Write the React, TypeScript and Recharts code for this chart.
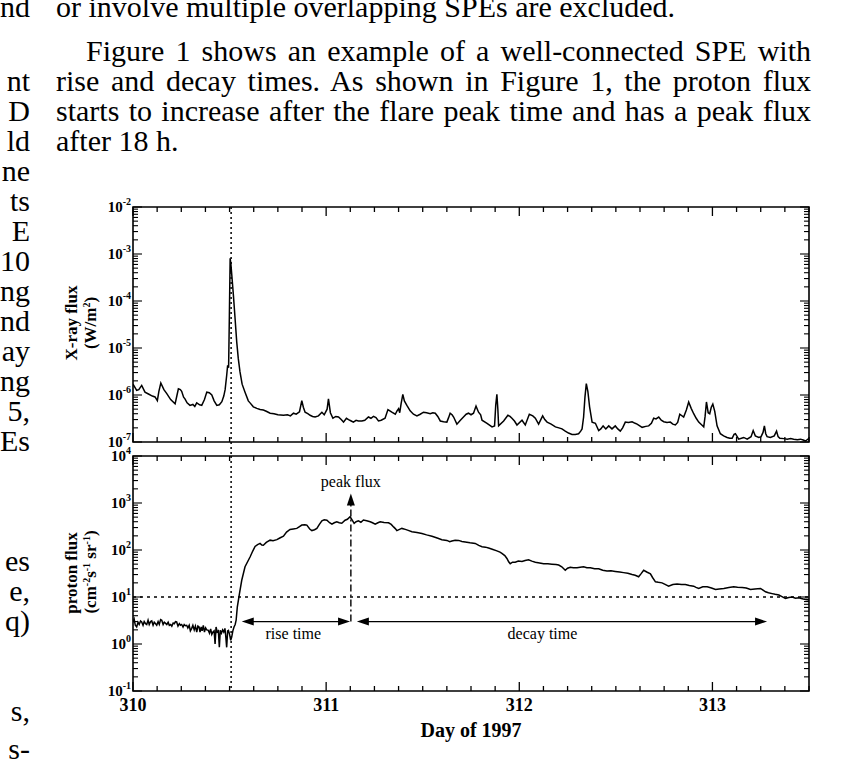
import React from "react";
import {
  LineChart,
  Line,
  XAxis,
  YAxis,
  ReferenceLine,
  ReferenceArea,
  ReferenceDot,
} from "recharts";

// GOES X-ray flux (W/m^2), [day of 1997, flux]
const xrayPoints: [number, number][] = [
  [310.0, 1.7e-6], [310.01, 1.45e-6], [310.019, 1.26e-6], [310.03, 1.3e-6], [310.045, 1.6e-6],
  [310.062, 1.15e-6], [310.08, 1.05e-6], [310.1, 9.5e-7], [310.114, 9.1e-7], [310.126, 7.6e-7],
  [310.134, 1.2e-6], [310.144, 1.8e-6], [310.16, 1.3e-6], [310.175, 1.07e-6], [310.195, 8e-7],
  [310.218, 6.5e-7], [310.228, 1.0e-6], [310.235, 1.35e-6], [310.245, 1.3e-6], [310.252, 1.2e-6],
  [310.262, 9e-7], [310.269, 8.3e-7], [310.28, 6.8e-7], [310.295, 6e-7], [310.31, 6.3e-7],
  [310.32, 5.7e-7], [310.33, 6.8e-7], [310.345, 6.2e-7], [310.356, 6e-7], [310.37, 8e-7],
  [310.382, 1.15e-6], [310.395, 1.12e-6], [310.408, 1e-6], [310.42, 7.5e-7], [310.434, 6e-7],
  [310.447, 6.2e-7], [310.46, 7.2e-7], [310.47, 9.5e-7], [310.477, 1.3e-6], [310.485, 2.6e-6],
  [310.49, 4.3e-6], [310.495, 3.8e-6], [310.499, 5e-5], [310.503, 8.1e-4], [310.507, 6e-4],
  [310.513, 3e-4], [310.52, 1.3e-4], [310.528, 4.5e-5], [310.537, 1.35e-5], [310.545, 6e-6],
  [310.554, 3.1e-6], [310.565, 1.7e-6], [310.58, 1.15e-6], [310.597, 7.5e-7], [310.606, 6.8e-7],
  [310.623, 5.6e-7], [310.641, 5.2e-7], [310.658, 4.9e-7], [310.675, 4.8e-7], [310.69, 4.5e-7],
  [310.71, 4.1e-7], [310.73, 4.0e-7], [310.75, 3.8e-7], [310.779, 3.7e-7], [310.8, 3.8e-7],
  [310.815, 3.6e-7], [310.831, 4.1e-7], [310.845, 3.9e-7], [310.862, 4.4e-7], [310.874, 7.6e-7],
  [310.882, 5.5e-7], [310.891, 4.3e-7], [310.905, 4.0e-7], [310.917, 3.7e-7], [310.93, 3.5e-7],
  [310.943, 3.4e-7], [310.96, 3.6e-7], [310.978, 4.3e-7], [310.99, 3.8e-7], [311.005, 5e-7],
  [311.012, 8.3e-7], [311.022, 4.2e-7], [311.035, 3.2e-7], [311.05, 3.5e-7], [311.064, 3.4e-7],
  [311.078, 3.0e-7], [311.09, 2.65e-7], [311.105, 3.2e-7], [311.116, 3.0e-7], [311.13, 2.8e-7],
  [311.141, 2.65e-7], [311.155, 2.9e-7], [311.167, 2.8e-7], [311.185, 2.8e-7], [311.2, 2.9e-7],
  [311.219, 3.4e-7], [311.232, 3.2e-7], [311.245, 3.5e-7], [311.258, 3.3e-7], [311.271, 2.8e-7],
  [311.285, 2.9e-7], [311.305, 3.2e-7], [311.32, 4.9e-7], [311.33, 4.6e-7], [311.34, 4.3e-7],
  [311.358, 3.9e-7], [311.367, 4.6e-7], [311.375, 5.1e-7], [311.381, 4.2e-7], [311.388, 6.5e-7],
  [311.397, 1.03e-6], [311.405, 7.5e-7], [311.418, 6e-7], [311.435, 4.6e-7], [311.452, 3.9e-7],
  [311.47, 3.6e-7], [311.487, 3.9e-7], [311.504, 4.3e-7], [311.52, 4.2e-7], [311.539, 4.0e-7],
  [311.552, 4.2e-7], [311.565, 4.1e-7], [311.578, 3.5e-7], [311.591, 2.8e-7], [311.608, 2.7e-7],
  [311.625, 2.65e-7], [311.634, 3.3e-7], [311.642, 4.1e-7], [311.652, 3.8e-7], [311.66, 3.4e-7],
  [311.677, 2.4e-7], [311.695, 2.9e-7], [311.711, 3.4e-7], [311.725, 3.9e-7], [311.737, 4.1e-7],
  [311.75, 3.8e-7], [311.763, 4.1e-7], [311.776, 5.8e-7], [311.789, 4.3e-7], [311.8, 3.8e-7],
  [311.807, 2.9e-7], [311.833, 2.5e-7], [311.859, 2.1e-7], [311.872, 2.2e-7], [311.878, 6e-7],
  [311.884, 1.03e-6], [311.889, 5e-7], [311.893, 2.2e-7], [311.919, 2.8e-7], [311.941, 3.7e-7],
  [311.952, 3.5e-7], [311.962, 3.2e-7], [311.975, 2.8e-7], [311.988, 2.3e-7], [312.014, 2.9e-7],
  [312.031, 2.3e-7], [312.052, 3.9e-7], [312.07, 3.6e-7], [312.083, 3.2e-7], [312.1, 2.4e-7],
  [312.121, 3.6e-7], [312.132, 3.0e-7], [312.144, 2.65e-7], [312.165, 2.4e-7], [312.187, 2.1e-7],
  [312.205, 2.0e-7], [312.221, 1.9e-7], [312.238, 1.7e-7], [312.255, 1.55e-7], [312.273, 1.45e-7],
  [312.29, 1.45e-7], [312.307, 1.5e-7], [312.318, 1.7e-7], [312.325, 1.9e-7], [312.333, 3.4e-7],
  [312.34, 9e-7], [312.347, 1.74e-6], [312.355, 1.2e-6], [312.364, 5.6e-7], [312.377, 2.65e-7],
  [312.394, 2.5e-7], [312.411, 1.75e-7], [312.422, 1.9e-7], [312.434, 2.2e-7], [312.448, 1.9e-7],
  [312.463, 2.2e-7], [312.48, 1.9e-7], [312.497, 2.2e-7], [312.51, 1.9e-7], [312.523, 1.7e-7],
  [312.535, 2.0e-7], [312.549, 2.65e-7], [312.565, 2.6e-7], [312.584, 2.7e-7], [312.6, 2.5e-7],
  [312.61, 2.4e-7], [312.636, 2.05e-7], [312.655, 2.15e-7], [312.67, 2.2e-7], [312.684, 2.5e-7],
  [312.696, 3.2e-7], [312.708, 3.1e-7], [312.722, 3.4e-7], [312.735, 2.9e-7], [312.748, 2.7e-7],
  [312.765, 2.6e-7], [312.782, 2.65e-7], [312.795, 2.4e-7], [312.808, 2.3e-7], [312.82, 2.6e-7],
  [312.831, 3.9e-7], [312.851, 3.4e-7], [312.865, 4.8e-7], [312.877, 7.1e-7], [312.89, 5.2e-7],
  [312.903, 4e-7], [312.916, 3.2e-7], [312.929, 2.65e-7], [312.945, 2.3e-7], [312.955, 2.1e-7],
  [312.962, 3.5e-7], [312.969, 7.1e-7], [312.978, 4.2e-7], [312.986, 4e-7], [312.994, 5.5e-7],
  [313.002, 6.4e-7], [313.012, 4.5e-7], [313.024, 2.2e-7], [313.041, 1.5e-7], [313.058, 1.35e-7],
  [313.076, 1.25e-7], [313.09, 1.2e-7], [313.102, 1.2e-7], [313.112, 1.45e-7], [313.119, 1.5e-7],
  [313.136, 1.15e-7], [313.15, 1.2e-7], [313.162, 1.25e-7], [313.18, 1.15e-7], [313.2, 1.3e-7],
  [313.211, 1.75e-7], [313.222, 1.35e-7], [313.24, 1.25e-7], [313.252, 1.3e-7], [313.262, 1.6e-7],
  [313.269, 2.2e-7], [313.276, 1.5e-7], [313.283, 1.3e-7], [313.3, 1.25e-7], [313.32, 1.35e-7],
  [313.332, 1.7e-7], [313.34, 1.3e-7], [313.349, 1.2e-7], [313.37, 1.18e-7], [313.387, 1.15e-7],
  [313.405, 1.18e-7], [313.421, 1.15e-7], [313.44, 1.12e-7], [313.456, 1.15e-7], [313.47, 1.1e-7],
  [313.482, 1.05e-7], [313.5, 1.2e-7],
];

// proton flux (cm^-2 s^-1 sr^-1), [day of 1997, flux]
const protonPoints: [number, number][] = [
  [310.0, 2.9], [310.006, 3.4], [310.012, 2.5], [310.019, 2.3], [310.026, 2.9], [310.032, 2.6],
  [310.039, 3.1], [310.045, 2.95], [310.052, 2.5], [310.058, 3.0], [310.065, 2.7], [310.071, 2.6],
  [310.078, 3.2], [310.084, 2.6], [310.091, 3.0], [310.097, 3.1], [310.104, 2.5], [310.11, 2.9],
  [310.117, 2.7], [310.123, 2.5], [310.13, 3.0], [310.136, 2.6], [310.143, 3.3], [310.149, 3.2],
  [310.156, 2.6], [310.162, 2.9], [310.169, 2.75], [310.175, 2.6], [310.182, 2.9], [310.188, 2.5],
  [310.195, 2.6], [310.201, 2.4], [310.208, 2.8], [310.214, 2.7], [310.22, 3.0], [310.226, 2.95],
  [310.233, 2.4], [310.24, 2.7], [310.246, 2.5], [310.252, 2.6], [310.259, 2.3], [310.265, 2.6],
  [310.271, 2.45], [310.278, 2.5], [310.284, 2.2], [310.291, 2.5], [310.297, 1.9], [310.304, 2.15],
  [310.31, 2.5], [310.317, 2.0], [310.323, 2.4], [310.33, 1.8], [310.336, 2.4], [310.342, 2.3],
  [310.347, 1.8], [310.353, 2.3], [310.358, 1.9], [310.364, 2.5], [310.37, 1.8], [310.376, 2.2],
  [310.382, 2.0], [310.39, 1.95], [310.396, 1.7], [310.402, 2.1], [310.408, 1.6], [310.414, 1.8],
  [310.42, 1.9], [310.425, 1.0], [310.43, 2.3], [310.436, 1.8], [310.442, 1.9], [310.447, 0.85],
  [310.452, 1.95], [310.458, 1.7], [310.464, 2.0], [310.47, 1.8], [310.476, 2.15], [310.48, 1.5],
  [310.485, 0.85], [310.49, 1.9], [310.494, 1.95], [310.5, 1.6], [310.506, 1.2], [310.511, 1.4],
  [310.517, 1.9], [310.523, 2.3], [310.529, 2.6], [310.534, 3.2], [310.54, 6.1], [310.551, 11.7],
  [310.563, 22.7], [310.58, 44], [310.606, 71], [310.62, 95], [310.632, 119], [310.645, 130],
  [310.658, 138], [310.667, 128], [310.675, 126], [310.69, 145], [310.71, 162], [310.725, 158],
  [310.745, 166], [310.76, 180], [310.779, 196], [310.795, 240], [310.813, 273], [310.83, 280],
  [310.848, 288], [310.86, 310], [310.874, 339], [310.89, 345], [310.9, 339], [310.915, 280],
  [310.926, 259], [310.94, 270], [310.952, 288], [310.965, 350], [310.978, 418], [310.99, 440],
  [311.004, 430], [311.018, 380], [311.03, 355], [311.042, 380], [311.055, 400], [311.068, 380],
  [311.081, 370], [311.098, 430], [311.11, 450], [311.124, 510], [311.135, 430], [311.145, 370],
  [311.155, 400], [311.167, 418], [311.18, 390], [311.193, 435], [311.21, 420], [311.228, 400],
  [311.24, 380], [311.254, 355], [311.268, 380], [311.28, 400], [311.3, 385], [311.323, 380],
  [311.337, 350], [311.349, 310], [311.358, 285], [311.366, 259], [311.38, 275], [311.392, 288],
  [311.41, 275], [311.425, 262], [311.444, 245], [311.47, 235], [311.496, 225], [311.52, 210],
  [311.548, 196], [311.575, 180], [311.599, 166], [311.625, 160], [311.64, 150], [311.651, 155],
  [311.668, 162], [311.686, 160], [311.703, 152], [311.72, 148], [311.745, 142], [311.772, 138],
  [311.79, 125], [311.807, 117], [311.825, 115], [311.841, 110], [311.86, 104], [311.884, 96],
  [311.9, 90], [311.91, 85], [311.925, 76], [311.936, 66], [311.945, 56], [311.953, 51],
  [311.965, 55], [311.979, 55], [311.995, 58], [312.014, 57], [312.03, 60], [312.048, 62],
  [312.065, 58], [312.083, 55], [312.105, 53], [312.126, 51], [312.148, 51], [312.169, 50],
  [312.19, 49], [312.204, 48], [312.22, 44], [312.238, 37], [312.25, 41], [312.264, 43],
  [312.28, 42], [312.299, 42], [312.315, 43], [312.333, 44], [312.35, 42], [312.368, 42],
  [312.39, 40], [312.411, 40], [312.432, 37], [312.454, 35.6], [312.475, 36], [312.497, 35],
  [312.52, 34], [312.54, 33], [312.562, 32], [312.584, 30], [312.6, 29], [312.618, 27],
  [312.63, 31], [312.644, 37], [312.66, 34], [312.679, 31], [312.69, 26], [312.705, 21],
  [312.72, 20.5], [312.739, 20], [312.755, 18.5], [312.773, 17], [312.795, 18.5], [312.817, 19],
  [312.84, 18.5], [312.86, 18.5], [312.88, 17.5], [312.903, 17], [312.915, 16], [312.929, 15.2],
  [312.95, 16.5], [312.973, 16.5], [312.995, 15.5], [313.016, 14.4], [313.035, 14.8], [313.059, 15.2],
  [313.085, 16], [313.11, 16.5], [313.13, 16.2], [313.154, 16], [313.175, 15.5], [313.197, 14.4],
  [313.22, 14.8], [313.249, 15.2], [313.262, 14], [313.275, 12.9], [313.29, 12.3], [313.309, 11.8],
  [313.325, 11.4], [313.344, 11], [313.36, 10.2], [313.378, 9.3], [313.395, 9.8], [313.413, 10],
  [313.43, 9.4], [313.447, 9.6], [313.465, 9.2], [313.482, 8.8], [313.5, 8.6],
];

// axes
const dayTicks = [
  310, 310.125, 310.25, 310.375, 310.5, 310.625, 310.75, 310.875,
  311, 311.125, 311.25, 311.375, 311.5, 311.625, 311.75, 311.875,
  312, 312.125, 312.25, 312.375, 312.5, 312.625, 312.75, 312.875,
  313, 313.125, 313.25, 313.375, 313.5,
];
const xrayDecades = [1e-7, 1e-6, 1e-5, 1e-4, 1e-3, 1e-2];
const protonDecades = [1e-1, 1e0, 1e1, 1e2, 1e3, 1e4];
const minorSteps = [2, 3, 4, 5, 6, 7, 8, 9];

// annotations
const flareDay = 310.508;
const peakDay = 311.128;
const threshold = 10;
const arrowLevel = 3;
const peakArrowTip = 1600;
const riseStart = 310.563;
const decayStart = 311.159;
const decayEnd = 313.283;
const xrayBelowPanel = 5e-8;
const labelLevel = 1.68;
const riseLabelDay = 310.83;
const decayLabelDay = 312.12;
const peakLabelLevel = 2900;

const PLOT_W = 676;
const PLOT_H = 235;
const SERIF = "'Liberation Serif', 'DejaVu Serif', serif";

const withMinors = (decades: number[]) => {
  const out: number[] = [];
  decades.forEach((d, i) => {
    out.push(d);
    if (i < decades.length - 1) minorSteps.forEach((m) => out.push(d * m));
  });
  return out;
};

const xTick = (showLabels: boolean) => (p: any) => {
  const { x, y, payload } = p;
  const v = payload.value;
  const major = Math.abs(v - Math.round(v)) < 1e-6;
  const len = major ? 9 : 5;
  return (
    <g>
      <line x1={x} y1={y} x2={x} y2={y - len} stroke="#000" strokeWidth={1.3} />
      <line x1={x} y1={y - PLOT_H} x2={x} y2={y - PLOT_H + len} stroke="#000" strokeWidth={1.3} />
      {showLabels && major && (
        <text
          x={x}
          y={y + 20}
          textAnchor="middle"
          fontFamily={SERIF}
          fontWeight="bold"
          fontSize={18}
          fill="#000"
        >
          {Math.round(v)}
        </text>
      )}
    </g>
  );
};

const yTick = (p: any) => {
  const { x, y, payload } = p;
  const v = payload.value;
  const e = Math.round(Math.log10(v));
  const major = Math.abs(v - Math.pow(10, e)) / v < 1e-6;
  const len = major ? 9 : 5;
  return (
    <g>
      <line x1={x} y1={y} x2={x + len} y2={y} stroke="#000" strokeWidth={1.1} />
      <line x1={x + PLOT_W} y1={y} x2={x + PLOT_W - len} y2={y} stroke="#000" strokeWidth={1.1} />
      {major && (
        <text
          x={x - 2}
          y={y + 5}
          textAnchor="end"
          fontFamily={SERIF}
          fontWeight="bold"
          fontSize={15}
          fill="#000"
        >
          10
          <tspan dy={-7} fontSize={10}>
            {e}
          </tspan>
        </text>
      )}
    </g>
  );
};

const head = (x: number, y: number, dx: number, dy: number) => {
  // filled triangle whose tip is at (x, y), pointing along (dx, dy)
  const L = 12;
  const W = 4;
  const bx = x - dx * L;
  const by = y - dy * L;
  return `${x},${y} ${bx - dy * W},${by + dx * W} ${bx + dy * W},${by - dx * W}`;
};

const DoubleArrow = (p: any) => {
  const { x1, y1, x2, y2 } = p;
  const l = Math.min(x1, x2);
  const r = Math.max(x1, x2);
  return (
    <g>
      <line x1={l + 8} y1={y1} x2={r - 8} y2={y2} stroke="#000" strokeWidth={1.2} />
      <polygon points={head(l, y1, -1, 0)} fill="#000" />
      <polygon points={head(r, y2, 1, 0)} fill="#000" />
    </g>
  );
};

const PeakArrow = (p: any) => {
  const { x1, y1, y2 } = p;
  const top = Math.min(y1, y2);
  const bottom = Math.max(y1, y2);
  return (
    <g>
      <line
        x1={x1}
        y1={bottom}
        x2={x1}
        y2={top + 8}
        stroke="#000"
        strokeWidth={1.4}
        strokeDasharray="7 3 2 3"
      />
      <polygon points={head(x1, top, 0, -1)} fill="#000" />
    </g>
  );
};

const textShape = (label: string) => (p: any) => (
  <text
    x={p.cx}
    y={p.cy}
    textAnchor="middle"
    dominantBaseline="central"
    fontFamily={SERIF}
    fontSize={16}
    fill="#000"
  >
    {label}
  </text>
);

const xrayData = xrayPoints.map(([day, flux]) => ({ day, flux }));
const protonData = protonPoints.map(([day, flux]) => ({ day, flux }));

const bodyText: React.CSSProperties = {
  position: "absolute",
  fontFamily: SERIF,
  fontSize: 30,
  lineHeight: "30px",
  whiteSpace: "nowrap",
  color: "#000",
};

const rightLines = [
  { text: "or involve multiple overlapping SPEs are excluded.", top: -8, indent: 0, justify: false },
  { text: "Figure 1 shows an example of a well-connected SPE with", top: 36, indent: 30, justify: true },
  { text: "rise and decay times. As shown in Figure 1, the proton flux", top: 66, indent: 0, justify: true },
  { text: "starts to increase after the flare peak time and has a peak flux", top: 96, indent: 0, justify: true },
  { text: "after 18 h.", top: 126, indent: 0, justify: false },
];

const leftLines = [
  { text: "nd", top: -8 },
  { text: "nt", top: 66 },
  { text: "D", top: 96 },
  { text: "ld", top: 126 },
  { text: "ne", top: 156 },
  { text: "ts", top: 186 },
  { text: "E", top: 216 },
  { text: "10", top: 246 },
  { text: "ng", top: 276 },
  { text: "nd", top: 306 },
  { text: "ay", top: 336 },
  { text: "ng", top: 366 },
  { text: "5,", top: 396 },
  { text: "Es", top: 426 },
  { text: "es", top: 546 },
  { text: "e,", top: 576 },
  { text: "q)", top: 606 },
  { text: "s,", top: 696 },
  { text: "s-", top: 734 },
];

const axisTitle = (cx: number, cy: number): React.CSSProperties => ({
  position: "absolute",
  left: cx,
  top: cy,
  transform: "translate(-50%, -50%) rotate(-90deg)",
  fontFamily: SERIF,
  fontWeight: "bold",
  fontSize: 17,
  lineHeight: "17px",
  whiteSpace: "nowrap",
  color: "#000",
});

const supStyle: React.CSSProperties = { fontSize: 10, verticalAlign: "6px", lineHeight: 0 };

export default function App() {
  return (
    <div
      style={{
        position: "absolute",
        left: 0,
        top: 0,
        width: 868,
        height: 770,
        overflow: "hidden",
        background: "#fff",
      }}
    >
      {leftLines.map((l, i) => (
        <div key={"l" + i} style={{ ...bodyText, top: l.top, right: 868 - 30, textAlign: "right" }}>
          {l.text}
        </div>
      ))}
      {rightLines.map((l, i) => (
        <div
          key={"r" + i}
          style={{
            ...bodyText,
            top: l.top,
            left: 56 + l.indent,
            width: 755 - l.indent,
            whiteSpace: "normal",
            textAlign: l.justify ? "justify" : "left",
            textAlignLast: l.justify ? "justify" : "left",
          }}
        >
          {l.text}
        </div>
      ))}

      <div style={axisTitle(71, 323)}>X-ray flux</div>
      <div style={axisTitle(90, 323)}>
        (W/m<span style={supStyle}>2</span>)
      </div>
      <div style={axisTitle(71, 573)}>proton flux</div>
      <div style={axisTitle(90, 572)}>
        (cm<span style={supStyle}>-2</span>s<span style={supStyle}>-1</span> sr
        <span style={supStyle}>-1</span>)
      </div>

      <div style={{ position: "absolute", left: 0, top: 0 }}>
        <LineChart
          width={868}
          height={460}
          data={xrayData}
          margin={{ top: 207, right: 59, bottom: 17, left: 132 }}
        >
          <XAxis
            dataKey="day"
            type="number"
            domain={[310, 313.5]}
            ticks={dayTicks}
            interval={0}
            height={1}
            tickSize={0}
            tickMargin={0}
            tickLine={false}
            axisLine={false}
            tick={xTick(false)}
            allowDataOverflow
          />
          <YAxis
            type="number"
            scale="log"
            domain={[1e-7, 1e-2]}
            ticks={withMinors(xrayDecades)}
            interval={0}
            width={1}
            tickSize={0}
            tickMargin={0}
            tickLine={false}
            axisLine={false}
            tick={yTick}
            allowDataOverflow
          />
          <ReferenceArea
            x1={310}
            x2={313.5}
            y1={1e-7}
            y2={1e-2}
            fill="none"
            fillOpacity={0}
            stroke="#000"
            strokeWidth={1.6}
          />
          <ReferenceLine
            segment={[
              { x: flareDay, y: 1e-2 },
              { x: flareDay, y: xrayBelowPanel },
            ]}
            ifOverflow="visible"
            stroke="#000"
            strokeWidth={1.5}
            strokeDasharray="2 3"
          />
          <Line
            type="linear"
            dataKey="flux"
            stroke="#000"
            strokeWidth={1.5}
            dot={false}
            isAnimationActive={false}
          />
        </LineChart>
      </div>

      <div style={{ position: "absolute", left: 0, top: 440 }}>
        <LineChart
          width={868}
          height={330}
          data={protonData}
          margin={{ top: 16, right: 59, bottom: 78, left: 132 }}
        >
          <XAxis
            dataKey="day"
            type="number"
            domain={[310, 313.5]}
            ticks={dayTicks}
            interval={0}
            height={1}
            tickSize={0}
            tickMargin={0}
            tickLine={false}
            axisLine={false}
            tick={xTick(true)}
            allowDataOverflow
            label={{
              value: "Day of 1997",
              position: "bottom",
              offset: 31,
              style: {
                fontFamily: SERIF,
                fontWeight: "bold",
                fontSize: 20,
                fill: "#000",
              },
            }}
          />
          <YAxis
            type="number"
            scale="log"
            domain={[1e-1, 1e4]}
            ticks={withMinors(protonDecades)}
            interval={0}
            width={1}
            tickSize={0}
            tickMargin={0}
            tickLine={false}
            axisLine={false}
            tick={yTick}
            allowDataOverflow
          />
          <ReferenceArea
            x1={310}
            x2={313.5}
            y1={1e-1}
            y2={1e4}
            fill="none"
            fillOpacity={0}
            stroke="#000"
            strokeWidth={1.6}
          />
          <ReferenceLine
            segment={[
              { x: flareDay, y: 1e4 },
              { x: flareDay, y: 1e-1 },
            ]}
            stroke="#000"
            strokeWidth={1.5}
            strokeDasharray="2 3"
          />
          <ReferenceLine y={threshold} stroke="#000" strokeWidth={1.4} strokeDasharray="3 4" />
          <ReferenceLine
            segment={[
              { x: peakDay, y: arrowLevel },
              { x: peakDay, y: peakArrowTip },
            ]}
            shape={PeakArrow}
          />
          <ReferenceLine
            segment={[
              { x: riseStart, y: arrowLevel },
              { x: peakDay - 0.004, y: arrowLevel },
            ]}
            shape={DoubleArrow}
          />
          <ReferenceLine
            segment={[
              { x: decayStart, y: arrowLevel },
              { x: decayEnd, y: arrowLevel },
            ]}
            shape={DoubleArrow}
          />
          <ReferenceDot x={peakDay} y={peakLabelLevel} r={0} shape={textShape("peak flux")} />
          <ReferenceDot x={riseLabelDay} y={labelLevel} r={0} shape={textShape("rise time")} />
          <ReferenceDot x={decayLabelDay} y={labelLevel} r={0} shape={textShape("decay time")} />
          <Line
            type="linear"
            dataKey="flux"
            stroke="#000"
            strokeWidth={1.5}
            dot={false}
            isAnimationActive={false}
          />
        </LineChart>
      </div>
    </div>
  );
}
